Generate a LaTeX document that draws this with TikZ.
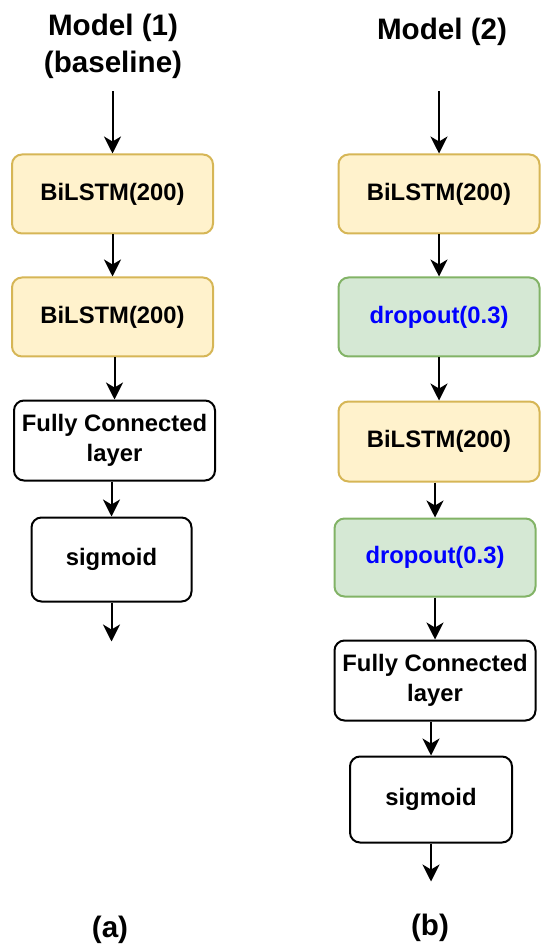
\documentclass[tikz,border=0pt]{standalone}
\usepackage{fontspec}
\setmainfont{Liberation Sans}
\usetikzlibrary{arrows.meta,positioning}
\definecolor{lstmfill}{HTML}{FFF2CC}
\definecolor{lstmline}{HTML}{D6B656}
\definecolor{dropfill}{HTML}{D5E8D4}
\definecolor{dropline}{HTML}{82B366}
\definecolor{droptext}{HTML}{0000FF}

\begin{document}
\begin{tikzpicture}[node distance=21pt,>={Stealth[length=8.5pt,width=8.5pt,inset=2.5pt]},
 every path/.style={line width=1pt},
 box/.style={draw,rounded corners=5pt,align=center,minimum width=100.5pt,minimum height=39.5pt,
 inner sep=0pt,font=\fontsize{11.9}{15}\selectfont\bfseries},
 lstm/.style={box,draw=lstmline,fill=lstmfill},
 drop/.style={box,draw=dropline,fill=dropfill,text=droptext},
 plain/.style={box,draw=black,fill=white},
 ttl/.style={align=center,font=\fontsize{14.8}{18.5}\selectfont\bfseries}]
\useasboundingbox (0,0) rectangle (275pt,-475.5pt);
% model (1), baseline
\node[ttl] (t1) at (56.5pt,-23pt) {Model (1)\\(baseline)};
\node[lstm] (a1) at (56.25pt,-97pt) {BiLSTM(200)};
\node[lstm,below=of a1] (a2) {BiLSTM(200)};
\node[plain,below=of a2,xshift=1pt,minimum height=40pt] (afc) {Fully Connected\\layer};
\node[plain,below=17.5pt of afc,xshift=-1.5pt,minimum width=80pt,minimum height=42pt] (asig) {sigmoid};
\coordinate[above=31pt of a1] (ain);
\coordinate[below=19.5pt of asig] (aout);
\node[ttl] (la) at (55pt,-465pt) {(a)};
\draw[->] (ain) -- (a1); \draw[->] (a1) -- (a2);
\draw[->] (afc.north |- a2.south) -- (afc.north);
\draw[->] (asig.north |- afc.south) -- (asig.north);
\draw[->] (asig) -- (aout);
% model (2), with dropout
\node[ttl] (t2) at (221pt,-16pt) {Model (2)};
\node[lstm] (b1) at (219.5pt,-97pt) {BiLSTM(200)};
\node[drop,below=of b1] (bd1) {dropout(0.3)};
\node[lstm,below=21.5pt of bd1,minimum height=40pt] (b2) {BiLSTM(200)};
\node[drop,below=17.5pt of b2,xshift=-2pt,minimum height=39pt] (bd2) {dropout(0.3)};
\node[plain,below=of bd2,minimum height=40pt] (bfc) {Fully Connected\\layer};
\node[plain,below=17pt of bfc,xshift=-2pt,minimum width=81pt,minimum height=43pt] (bsig) {sigmoid};
\coordinate[above=31pt of b1] (bin);
\coordinate[below=19pt of bsig] (bout);
\node[ttl] (lb) at (215pt,-464pt) {(b)};
\draw[->] (bin) -- (b1); \draw[->] (b1) -- (bd1); \draw[->] (bd1) -- (b2);
\draw[->] (bd2.north |- b2.south) -- (bd2.north);
\draw[->] (bd2) -- (bfc);
\draw[->] (bsig.north |- bfc.south) -- (bsig.north);
\draw[->] (bsig) -- (bout);
\end{tikzpicture}
\end{document}
